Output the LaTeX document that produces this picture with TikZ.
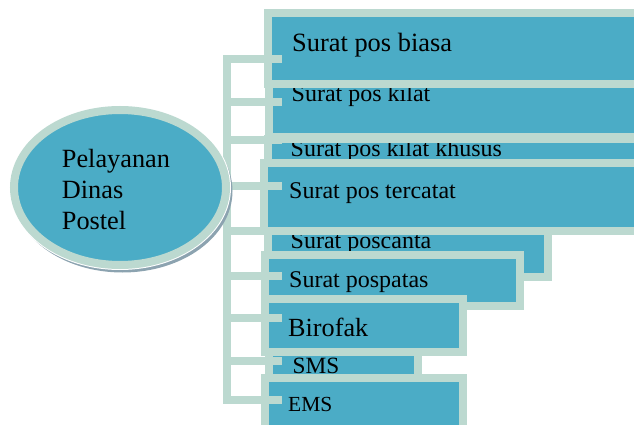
\documentclass[tikz,border=0pt]{standalone}
\usepackage{fontspec}
\setmainfont{Liberation Serif}
\usetikzlibrary{shapes.geometric}
\definecolor{panel}{RGB}{75,172,198}
\definecolor{rim}{RGB}{188,217,208}
\definecolor{shade}{RGB}{140,163,176}
\tikzstyle{box}=[draw=rim, fill=panel, line width=8pt, inner sep=0pt]
\tikzstyle{item}=[anchor=base west, inner sep=0pt, font=\fontsize{24}{28}\selectfont]
\tikzstyle{connector}=[draw=rim, line width=8pt]
\tikzstyle{root}=[ellipse, draw=rim, fill=panel, line width=8pt, minimum width=212pt, minimum height=155pt, inner sep=0pt]

\begin{document}
\begin{tikzpicture}[x=1pt, y=-1pt]
  \useasboundingbox (0,0) rectangle (634,425);
  \clip (0,0) rectangle (634,425);

  % service boxes, later ones lie over earlier ones
  \node[box, minimum width=391pt, minimum height=53pt] (kilat) at (464.5,110.5) {};
  \node[item] (kilat_text) at (291.5,101.7) {Surat pos kilat};
  \node[box, minimum width=392pt, minimum height=70.7pt] (biasa) at (464,48.6) {};
  \node[item, font=\fontsize{26.4}{31}\selectfont] (biasa_text) at (292,51.7) {Surat pos biasa};
  \node[box, minimum width=392pt, minimum height=24.3pt] (khusus) at (464,151.2) {};
  \begin{scope}
    \clip (272,143.3) rectangle (634,159.3);
    \node[item] (khusus_text) at (290.5,156.7) {Surat pos kilat khusus};
  \end{scope}
  \node[box, minimum width=280.3pt, minimum height=46.3pt] (poscanta) at (407.8,254.2) {};
  \node[item] (poscanta_text) at (290.5,248.3) {Surat poscanta};
  \node[box, minimum width=395.7pt, minimum height=67.4pt] (tercatat) at (462.2,197) {};
  \node[item] (tercatat_text) at (289,198.3) {Surat pos tercatat};
  \node[box, minimum width=254.2pt, minimum height=50.4pt] (pospatas) at (392.4,280.5) {};
  \node[item] (pospatas_text) at (289,287.5) {Surat pospatas};
  \node[box, minimum width=198pt, minimum height=52.4pt] (birofak) at (364.3,325.5) {};
  \node[item, font=\fontsize{26.2}{31}\selectfont] (birofak_text) at (288,336.7) {Birofak};
  \node[box, minimum width=149.3pt, minimum height=26.3pt] (sms) at (343.4,365.2) {};
  \node[item, font=\fontsize{23.3}{28}\selectfont] (sms_text) at (292.5,373.5) {SMS};
  \node[box, minimum width=198pt, minimum height=51.7pt] (ems) at (364.3,404.2) {};
  \node[item, font=\fontsize{21.5}{26}\selectfont] (ems_text) at (288,411.7) {EMS};

  % trunk and stubs
  \coordinate (trunk) at (226.7,0);
  \foreach \name/\y in {biasa/59, kilat/102, khusus/139.5, tercatat/186, poscanta/231,
                        pospatas/276, birofak/318, sms/360.5, ems/399.5}
    \coordinate (\name_in) at (282,\y);
  \draw[connector] (biasa_in) -- (trunk |- biasa_in) -- (trunk |- ems_in) -- (ems_in);
  \foreach \name in {kilat, khusus, tercatat, poscanta, pospatas, birofak, sms}
    \draw[connector] (trunk |- \name_in) -- (\name_in);

  % root ellipse
  \node[root, draw=shade, fill=shade] (root_shadow) at (122.5,191) {};
  \node[root, preaction={draw=white, line width=10pt}] (root) at (120,187.5) {};
  \node[anchor=north west, inner sep=0pt, align=left, font=\fontsize{26.3}{31}\selectfont]
    (root_text) at (61.7,148.7) {Pelayanan\\Dinas\\Postel};
\end{tikzpicture}
\end{document}
